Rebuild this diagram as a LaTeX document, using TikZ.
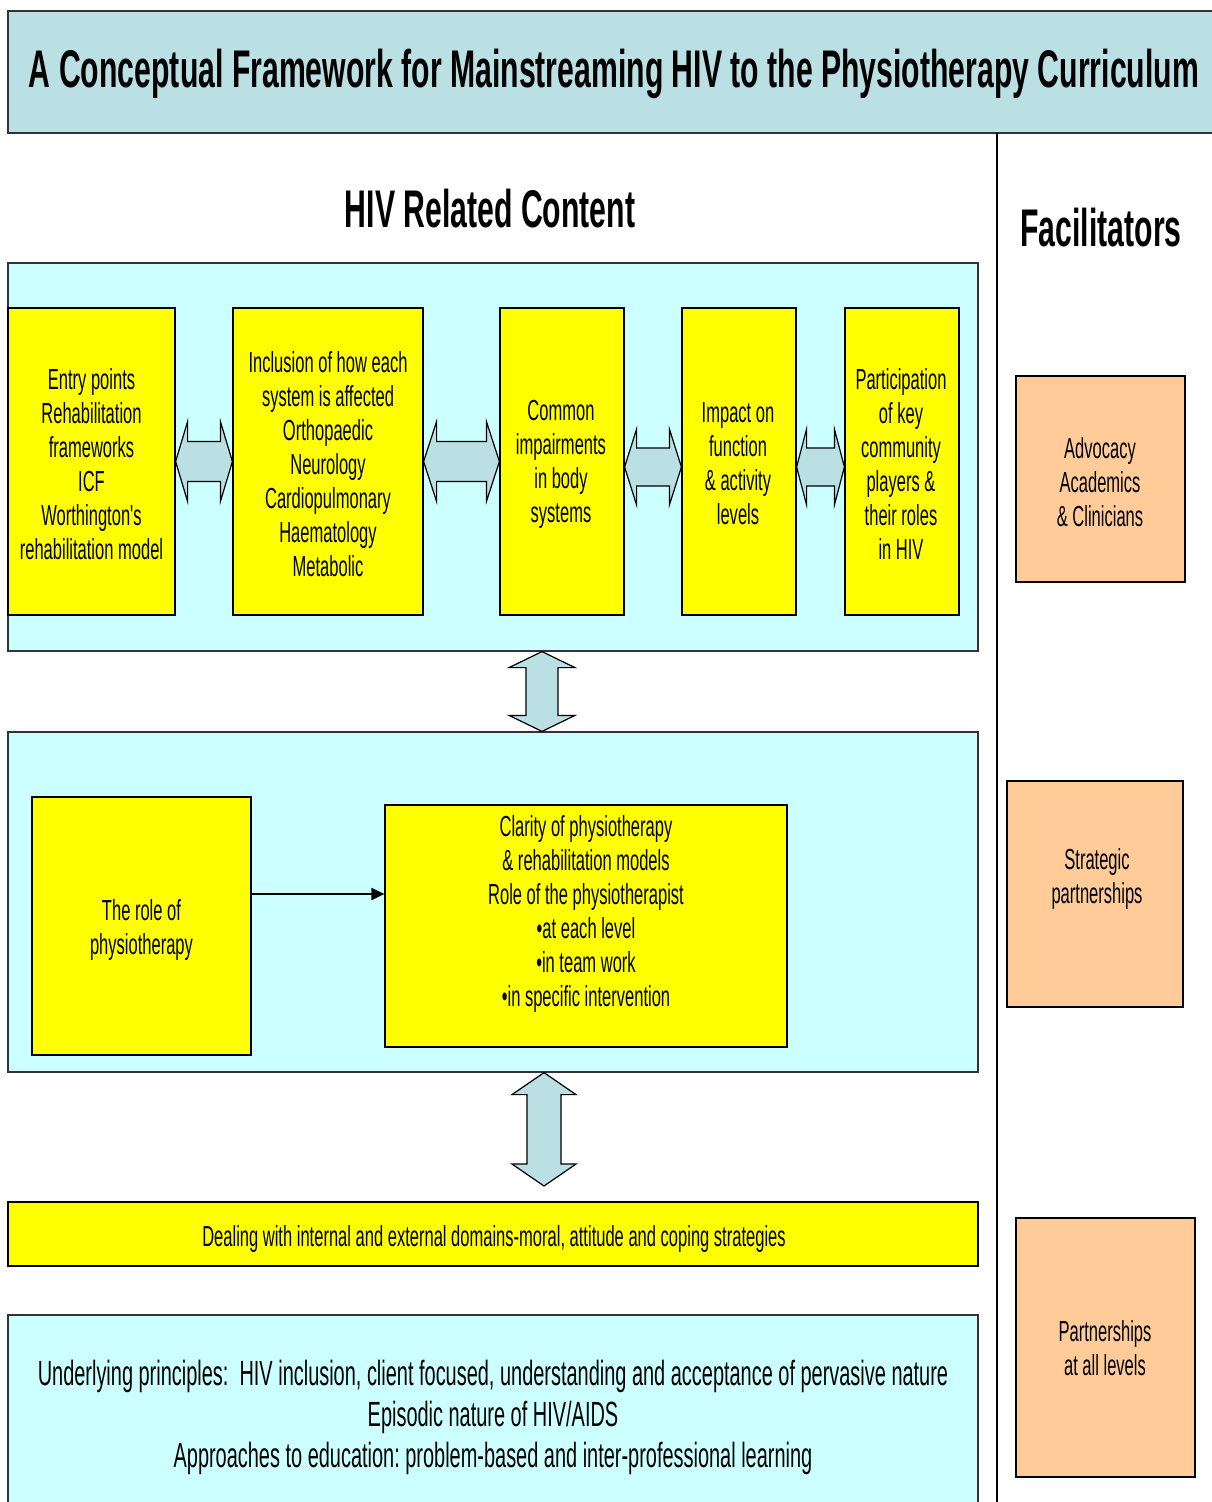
\documentclass[tikz,border=0pt]{standalone}
\usepackage{fontspec}
\setmainfont{Liberation Sans}[FakeStretch=0.57, Ligatures=TeXOff]
\usetikzlibrary{calc,arrows.meta}
\frenchspacing

\definecolor{titleblue}{HTML}{BBE0E3}
\definecolor{panelcyan}{HTML}{CCFFFF}
\definecolor{boxyellow}{HTML}{FFFF00}
\definecolor{boxorange}{HTML}{FFCC99}
\definecolor{framegray}{HTML}{333333}

% Horizontal two-headed block arrow between two boxes
% #1 left node, #2 right node, #3 downward offset, #4 head length,
% #5 head half height, #6 shaft half height
\newcommand{\hdarrow}[6]{%
  \draw[blockarrow] let \p1=([yshift=-#3pt]#1.east), \p2=(#2.west) in
    (\x1,\y1) -- (\x1+#4pt,\y1+#5pt) -- (\x1+#4pt,\y1+#6pt)
    -- (\x2-#4pt,\y1+#6pt) -- (\x2-#4pt,\y1+#5pt) -- (\x2,\y1)
    -- (\x2-#4pt,\y1-#5pt) -- (\x2-#4pt,\y1-#6pt)
    -- (\x1+#4pt,\y1-#6pt) -- (\x1+#4pt,\y1-#5pt) -- cycle;}

% Vertical two-headed block arrow between two coordinates
% #1 top tip, #2 bottom tip, #3 head length, #4 head half width, #5 shaft half width
\newcommand{\vdarrow}[5]{%
  \draw[blockarrow] let \p1=(#1), \p2=(#2) in
    (\x1,\y1) -- (\x1+#4pt,\y1-#3pt) -- (\x1+#5pt,\y1-#3pt)
    -- (\x1+#5pt,\y2+#3pt) -- (\x1+#4pt,\y2+#3pt) -- (\x1,\y2)
    -- (\x1-#4pt,\y2+#3pt) -- (\x1-#5pt,\y2+#3pt)
    -- (\x1-#5pt,\y1-#3pt) -- (\x1-#4pt,\y1-#3pt) -- cycle;}

\begin{document}
\begin{tikzpicture}[x=1pt,y=-1pt,
  panel/.style={draw=framegray, line width=1.2pt, fill=panelcyan, inner sep=0pt},
  ybox/.style={draw=black, line width=1.2pt, fill=boxyellow, inner sep=0pt,
    align=center, font=\fontsize{29}{34}\selectfont},
  obox/.style={draw=black, line width=1.2pt, fill=boxorange, inner sep=0pt,
    align=center, font=\fontsize{29}{34}\selectfont},
  plaintext/.style={align=center, inner sep=0pt, font=\fontsize{29}{34}\selectfont},
  heading/.style={inner sep=0pt, font=\bfseries\fontsize{53}{60}\selectfont},
  blockarrow/.style={draw=black, line width=1.2pt, fill=titleblue, line join=miter},
  flow/.style={draw=black, line width=2pt, -{Triangle[length=13pt,width=12pt]}},
  divider/.style={draw=black, line width=1.5pt},
]
\useasboundingbox (0,0) rectangle (1211,1502);

% Title banner
\node[draw=framegray, line width=1.2pt, fill=titleblue, minimum width=1214pt,
  minimum height=122pt] (title) at (615,72) {};
\node[heading] (titletext) at (614,74)
  {A Conceptual Framework for Mainstreaming HIV to the Physiotherapy Curriculum};

% Divider between content and facilitators
\coordinate (divtop) at (997,133);
\coordinate (divbot) at (997,1510);
\draw[divider] (divtop) -- (divbot);

% Column headings
\node[heading] (hivhead) at (490,209) {HIV Related Content};
\node[heading] (fachead) at (1101,228) {Facilitators};

% Upper panel with the five content boxes
\node[panel, minimum width=970pt, minimum height=388pt] (c1) at (493,457) {};
\node[ybox, minimum width=167pt, minimum height=307pt] (y1) at (91.5,461.5) {};
\node[plaintext] (y1text) at (91.5,464)
  {Entry points\\Rehabilitation\\frameworks\\ICF\\Worthington's\\rehabilitation model};
\node[ybox, minimum width=190pt, minimum height=307pt] (y2) at (328,461.5) {};
\node[plaintext] (y2text) at (328,464)
  {Inclusion of how each\\system is affected\\Orthopaedic\\Neurology\\Cardiopulmonary\\Haematology\\Metabolic};
\node[ybox, minimum width=124pt, minimum height=307pt] (y3) at (562,461.5) {};
\node[plaintext] (y3text) at (561,464)
  {Common\\impairments\\in body\\systems};
\node[ybox, minimum width=114pt, minimum height=307pt] (y4) at (739,461.5) {};
\node[plaintext] (y4text) at (738,464)
  {Impact on\\function\\\& activity\\levels};
\node[ybox, minimum width=114pt, minimum height=307pt] (y5) at (902,461.5) {};
\node[plaintext] (y5text) at (901,464)
  {Participation\\of key\\community\\players \&\\their roles\\in HIV};

\hdarrow{y1}{y2}{0}{12}{40}{20}
\hdarrow{y2}{y3}{0}{13}{40}{20}
\hdarrow{y3}{y4}{5.5}{12}{38}{19}
\hdarrow{y4}{y5}{5.5}{10}{38}{19}

% Middle panel: role of physiotherapy
\node[panel, minimum width=970pt, minimum height=340pt] (c2) at (493,902) {};
\node[ybox, minimum width=219pt, minimum height=258pt] (role) at (141.5,926) {};
\node[plaintext] (roletext) at (141.5,930) {The role of\\physiotherapy};
\node[ybox, minimum width=402pt, minimum height=242pt] (clarity) at (586,926) {};
\node[plaintext] (claritytext) at (586,914)
  {Clarity of physiotherapy\\\& rehabilitation models\\Role of the physiotherapist\\%
   •at each level\\•in team work\\•in specific intervention};
\draw[flow] ([yshift=32pt]role.east) -- ([yshift=32pt]clarity.west);

% Links between panels
\coordinate (va1top) at ($(c1.south)+(49,0)$);
\coordinate (va1bot) at ($(c2.north)+(49,0)$);
\vdarrow{va1top}{va1bot}{16}{33}{16}
\coordinate (va2top) at ($(c2.south)+(51,0)$);
\coordinate (va2bot) at (544,1186);
\vdarrow{va2top}{va2bot}{22}{32}{17}

% Domains bar
\node[ybox, minimum width=970pt, minimum height=64pt] (domains) at (493,1234) {};
\node[plaintext] (domainstext) at (494,1239)
  {Dealing with internal and external domains-moral, attitude and coping strategies};

% Underlying principles panel
\node[panel, minimum width=970pt, minimum height=210pt] (c3) at (493,1420) {};
\node[plaintext, font=\fontsize{35}{41}\selectfont] (c3text) at (493,1417)
  {Underlying principles:~ HIV inclusion, client focused, understanding and acceptance of pervasive nature\\
   Episodic nature of HIV/AIDS\\
   Approaches to education: problem-based and inter-professional learning};

% Facilitators
\node[obox, minimum width=169pt, minimum height=206pt] (f1) at (1100.5,479) {};
\node[plaintext] (f1text) at (1100,482) {Advocacy\\Academics\\\& Clinicians};
\node[obox, minimum width=176pt, minimum height=226pt] (f2) at (1095,894) {};
\node[plaintext] (f2text) at (1097,879) {Strategic\\partnerships};
\node[obox, minimum width=179pt, minimum height=259pt] (f3) at (1105.5,1347.5) {};
\node[plaintext] (f3text) at (1105,1348) {Partnerships\\at all levels};
\end{tikzpicture}
\end{document}
